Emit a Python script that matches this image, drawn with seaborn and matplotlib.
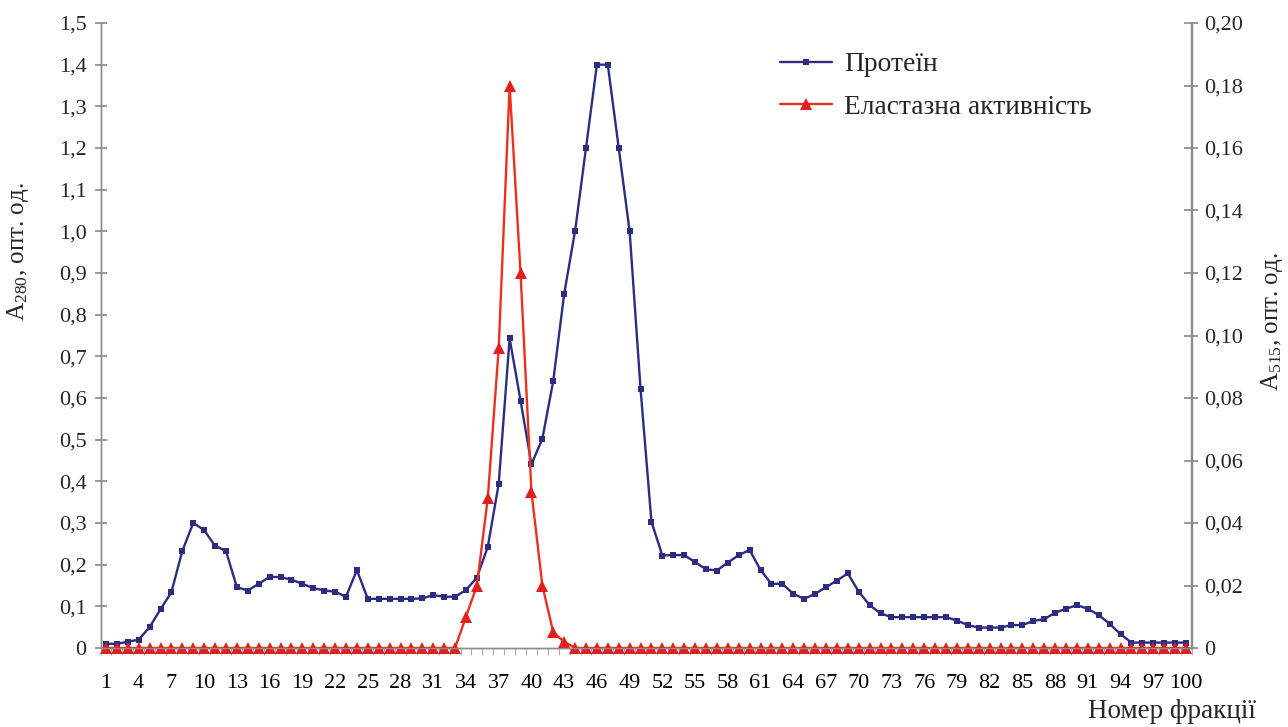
import numpy as np
import pandas as pd
import matplotlib
matplotlib.use("Agg")
import matplotlib.pyplot as plt
from matplotlib.ticker import FixedLocator
import seaborn as sns

fractions = list(range(1, 101))

protein = [
    0.010, 0.010, 0.015, 0.020, 0.050, 0.093, 0.134, 0.233, 0.300, 0.283,
    0.245, 0.233, 0.146, 0.138, 0.154, 0.171, 0.170, 0.164, 0.154, 0.144,
    0.138, 0.135, 0.123, 0.187, 0.118, 0.118, 0.118, 0.118, 0.118, 0.119,
    0.127, 0.123, 0.123, 0.139, 0.169, 0.243, 0.394, 0.743, 0.594, 0.441,
    0.502, 0.641, 0.850, 1.001, 1.200, 1.400, 1.400, 1.200, 1.000, 0.622,
    0.303, 0.222, 0.223, 0.223, 0.206, 0.189, 0.186, 0.205, 0.223, 0.235,
    0.187, 0.154, 0.154, 0.130, 0.118, 0.130, 0.146, 0.162, 0.179, 0.135,
    0.103, 0.083, 0.074, 0.074, 0.074, 0.074, 0.074, 0.074, 0.066, 0.055,
    0.049, 0.049, 0.049, 0.055, 0.055, 0.065, 0.069, 0.085, 0.094, 0.103,
    0.094, 0.079, 0.058, 0.033, 0.013, 0.013, 0.013, 0.013, 0.013, 0.013,
]

elastase = [0.0] * 33 + [
    0.010, 0.020, 0.048, 0.096, 0.180, 0.120, 0.050, 0.020, 0.005, 0.002,
] + [0.0] * 57

x_tick_labels = [str(v) for v in range(1, 101, 3)]
left_ticks = [round(0.1 * i, 1) for i in range(16)]
right_ticks = [round(0.02 * i, 2) for i in range(11)]

series_protein = "Протеїн"
series_elastase = "Еластазна активність"

sns.set_theme(style="white")
plt.rcParams["font.family"] = ["Liberation Serif", "DejaVu Serif"]
plt.rcParams["mathtext.fontset"] = "custom"
plt.rcParams["mathtext.rm"] = "Liberation Serif"
plt.rcParams["mathtext.it"] = "Liberation Serif:italic"

df = pd.DataFrame({"fraction": fractions, "protein": protein, "elastase": elastase})

fig = plt.figure(figsize=(12.88, 7.27), dpi=100)
ax = fig.add_axes([100.5 / 1288, 1 - 648 / 727, (1191.5 - 100.5) / 1288, (648 - 23) / 727])
ax2 = ax.twinx()

blue = "#2E2C80"
red = "#E8321E"

sns.lineplot(data=df, x="fraction", y="protein", ax=ax, color=blue, marker="s",
             markersize=5, markeredgewidth=0, linewidth=1.7, label=series_protein,
             legend=False, zorder=3, clip_on=False)
sns.lineplot(data=df, x="fraction", y="elastase", ax=ax2, color=red, marker="^",
             markersize=8, markeredgewidth=0, markerfacecolor="#E31E1E", linewidth=1.7,
             label=series_elastase, legend=False, zorder=2, clip_on=False)

ax.set_xlim(0.5, 100.5)
ax.set_ylim(0, 1.5)
ax2.set_ylim(0, 0.20)

ax.xaxis.set_major_locator(FixedLocator(list(range(1, 101, 3))))
ax.set_xticklabels(x_tick_labels)
ax.xaxis.set_minor_locator(FixedLocator([v + 0.5 for v in range(0, 101)]))
ax.set_yticks(left_ticks)
ax.set_yticklabels(["0" if v == 0 else f"{v:.1f}".replace(".", ",") for v in left_ticks])
ax2.set_yticks(right_ticks)
ax2.set_yticklabels(["0" if v == 0 else f"{v:.2f}".replace(".", ",") for v in right_ticks])

grey = "#8C8C8C"
for a in (ax, ax2):
    a.spines["top"].set_visible(False)
    for s in ("left", "right", "bottom"):
        a.spines[s].set_color(grey)
        a.spines[s].set_linewidth(1.0)
    a.grid(False)

ax.tick_params(axis="x", which="major", length=0, pad=19, labelsize=16, colors="black")
ax.tick_params(axis="x", which="minor", bottom=True, length=5, color="#B0B0B0", width=0.8)
ax.tick_params(axis="y", which="major", left=True, direction="inout", length=8,
               color=grey, labelsize=16, pad=6)
ax2.tick_params(axis="y", which="major", right=True, direction="inout", length=10,
                color=grey, labelsize=16, pad=4)

ax.set_xlabel("")
ax.set_ylabel(r"A$_{\mathrm{280}}$, опт. од.", fontsize=18)
ax.yaxis.set_label_coords((31 - 100.5) / 1091, (648 - 252) / 625)
ax2.set_ylabel(r"A$_{\mathrm{515}}$, опт. од.", fontsize=18, rotation=90)
ax2.yaxis.set_label_coords((1259 - 100.5) / 1091, (648 - 322) / 625)
fig.text(1256 / 1288, 1 - 712 / 727, "Номер фракції", ha="right", va="center", fontsize=19.5)

h1, l1 = ax.get_legend_handles_labels()
h2, l2 = ax2.get_legend_handles_labels()
leg = ax2.legend(h1 + h2, l1 + l2, loc="upper left",
                 bbox_to_anchor=((780 - 100.5) / 1091, (648 - 52) / 625),
                 frameon=False, fontsize=19.8, handlelength=1.9, handletextpad=0.42,
                 labelspacing=0.62, borderpad=0, borderaxespad=0)

fig.savefig("out.png", dpi=100)
